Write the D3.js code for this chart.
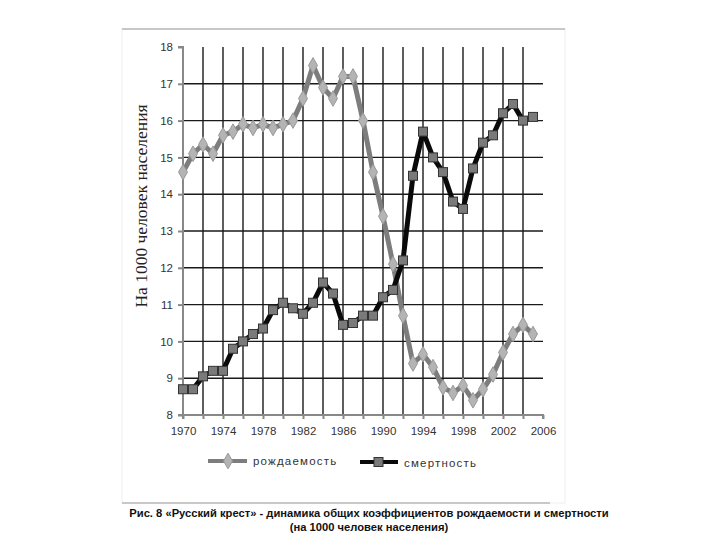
<!DOCTYPE html>
<html>
<head>
<meta charset="utf-8">
<script src="https://cdn.jsdelivr.net/npm/d3@7"></script>
<style>
  body { margin: 0; background: #fff; }
  svg { display: block; }
</style>
</head>
<body>
<script>
// данные
const years = d3.range(1970, 2006);
const birthRate = [14.6, 15.1, 15.35, 15.1, 15.6, 15.7, 15.9, 15.8, 15.9, 15.8, 15.9, 16.0,
  16.6, 17.5, 16.9, 16.6, 17.2, 17.2, 16.0, 14.6, 13.4, 12.1, 10.7, 9.4, 9.65, 9.3, 8.75,
  8.6, 8.8, 8.4, 8.7, 9.1, 9.7, 10.2, 10.45, 10.2];
const deathRate = [8.7, 8.7, 9.05, 9.2, 9.2, 9.8, 10.0, 10.2, 10.35, 10.85, 11.05, 10.9,
  10.75, 11.05, 11.6, 11.3, 10.45, 10.5, 10.7, 10.7, 11.2, 11.4, 12.2, 14.5, 15.7, 15.0,
  14.6, 13.8, 13.6, 14.7, 15.4, 15.6, 16.2, 16.45, 16.0, 16.1];
const yTicks = d3.range(8, 19);
const xLabels = d3.range(1970, 2007, 4);
const seriesNames = ["рождаемость", "смертность"];
const yTitle = "На 1000 человек населения";
const caption = ["Рис. 8 «Русский крест» - динамика общих коэффициентов рождаемости и смертности",
  "(на 1000 человек населения)"];

const width = 720, height = 540;
const svg = d3.select("body").append("svg")
  .attr("width", width).attr("height", height);

// рамка
svg.append("rect").attr("x", 122).attr("y", 29).attr("width", 443).attr("height", 474)
  .attr("fill", "none").attr("stroke", "#eee");
svg.append("line").attr("x1", 122).attr("x2", 565).attr("y1", 29).attr("y2", 29)
  .attr("stroke", "#999").attr("stroke-width", 1);
svg.append("line").attr("x1", 122).attr("x2", 550).attr("y1", 503).attr("y2", 503)
  .attr("stroke", "#999").attr("stroke-width", 1);

const x = d3.scaleLinear().domain([1970, 2006]).range([183, 543]);
const y = d3.scaleLinear().domain([8, 18]).range([415, 47]);

// сетка
svg.append("g").selectAll("line").data(d3.range(9, 18)).enter().append("line")
  .attr("x1", x(1970)).attr("x2", x(2006))
  .attr("y1", d => y(d)).attr("y2", d => y(d))
  .attr("stroke", "#1a1a1a").attr("stroke-width", 1.4);
svg.append("g").selectAll("line").data(d3.range(1972, 2006, 2)).enter().append("line")
  .attr("x1", d => x(d)).attr("x2", d => x(d))
  .attr("y1", y(18)).attr("y2", y(8))
  .attr("stroke", "#1a1a1a").attr("stroke-width", 1.4);

// оси
const yAxis = svg.append("g").attr("transform", `translate(${x(1970)},0)`)
  .call(d3.axisLeft(y).tickValues(yTicks).tickSize(5).tickPadding(5));
const xAxis = svg.append("g").attr("transform", `translate(0,${y(8)})`)
  .call(d3.axisBottom(x).tickValues(d3.range(1970, 2007, 2)).tickSize(4)
    .tickFormat(d => xLabels.includes(d) ? d : "").tickPadding(8));
[yAxis, xAxis].forEach(g => {
  g.select(".domain").attr("stroke", "#888").attr("stroke-width", 2);
  g.selectAll(".tick line").attr("stroke", "#888").attr("stroke-width", 2);
  g.selectAll("text").attr("font-family", "Arial, 'Liberation Sans', sans-serif")
    .attr("font-size", 11.5).attr("fill", "#333");
});
xAxis.select(".domain").attr("d", `M${x(1970)},4V0H${x(2006)}V4`);
yAxis.select(".domain").attr("d", `M-5,${y(18)}H0V${y(8)}H-5`);

// подпись оси Y
svg.append("text")
  .attr("transform", `translate(147,${206}) rotate(-90)`)
  .attr("text-anchor", "middle")
  .attr("font-family", "'Liberation Serif', 'Times New Roman', serif")
  .attr("font-size", 17.5).attr("fill", "#222")
  .text(yTitle);

const line = d3.line().x((d, i) => x(years[i])).y(d => y(d));
const diamond = d3.symbol().type(d3.symbolDiamond).size(70);

// рождаемость
svg.append("path").datum(birthRate).attr("d", line)
  .attr("fill", "none").attr("stroke", "#7d7d7d").attr("stroke-width", 5)
  .attr("stroke-linejoin", "round");
svg.append("g").selectAll("path").data(birthRate).enter().append("path")
  .attr("d", diamond)
  .attr("transform", (d, i) => `translate(${x(years[i])},${y(d)})`)
  .attr("fill", "#b4b4b4").attr("stroke", "#999").attr("stroke-width", 1);

// смертность
svg.append("path").datum(deathRate).attr("d", line)
  .attr("fill", "none").attr("stroke", "#0a0a0a").attr("stroke-width", 5)
  .attr("stroke-linejoin", "round");
svg.append("g").selectAll("rect").data(deathRate).enter().append("rect")
  .attr("x", (d, i) => x(years[i]) - 4.5).attr("y", d => y(d) - 4.5)
  .attr("width", 9).attr("height", 9)
  .attr("fill", "#7a7a7a").attr("stroke", "#333").attr("stroke-width", 1);

// легенда
const lg = svg.append("g");
lg.append("line").attr("x1", 208).attr("x2", 247).attr("y1", 461).attr("y2", 461)
  .attr("stroke", "#7d7d7d").attr("stroke-width", 4);
lg.append("path").attr("d", diamond).attr("transform", "translate(228,461)")
  .attr("fill", "#b4b4b4").attr("stroke", "#999");
lg.append("text").attr("x", 253).attr("y", 465).text(seriesNames[0]);
lg.append("line").attr("x1", 360).attr("x2", 398).attr("y1", 462).attr("y2", 462)
  .attr("stroke", "#0a0a0a").attr("stroke-width", 4);
lg.append("rect").attr("x", 374).attr("y", 457.5).attr("width", 9).attr("height", 9)
  .attr("fill", "#7a7a7a").attr("stroke", "#333");
lg.append("text").attr("x", 404).attr("y", 467).text(seriesNames[1]);
lg.selectAll("text").attr("font-family", "Arial, 'Liberation Sans', sans-serif")
  .attr("font-size", 11.5).attr("fill", "#333").attr("letter-spacing", 1.2);

// подпись рисунка
svg.append("g").selectAll("text").data(caption).enter().append("text")
  .attr("x", 369).attr("y", (d, i) => 517 + i * 14)
  .attr("text-anchor", "middle")
  .attr("font-family", "Arial, 'Liberation Sans', sans-serif")
  .attr("font-weight", "bold").attr("font-size", 11.2).attr("fill", "#111")
  .text(d => d);
</script>
</body>
</html>
